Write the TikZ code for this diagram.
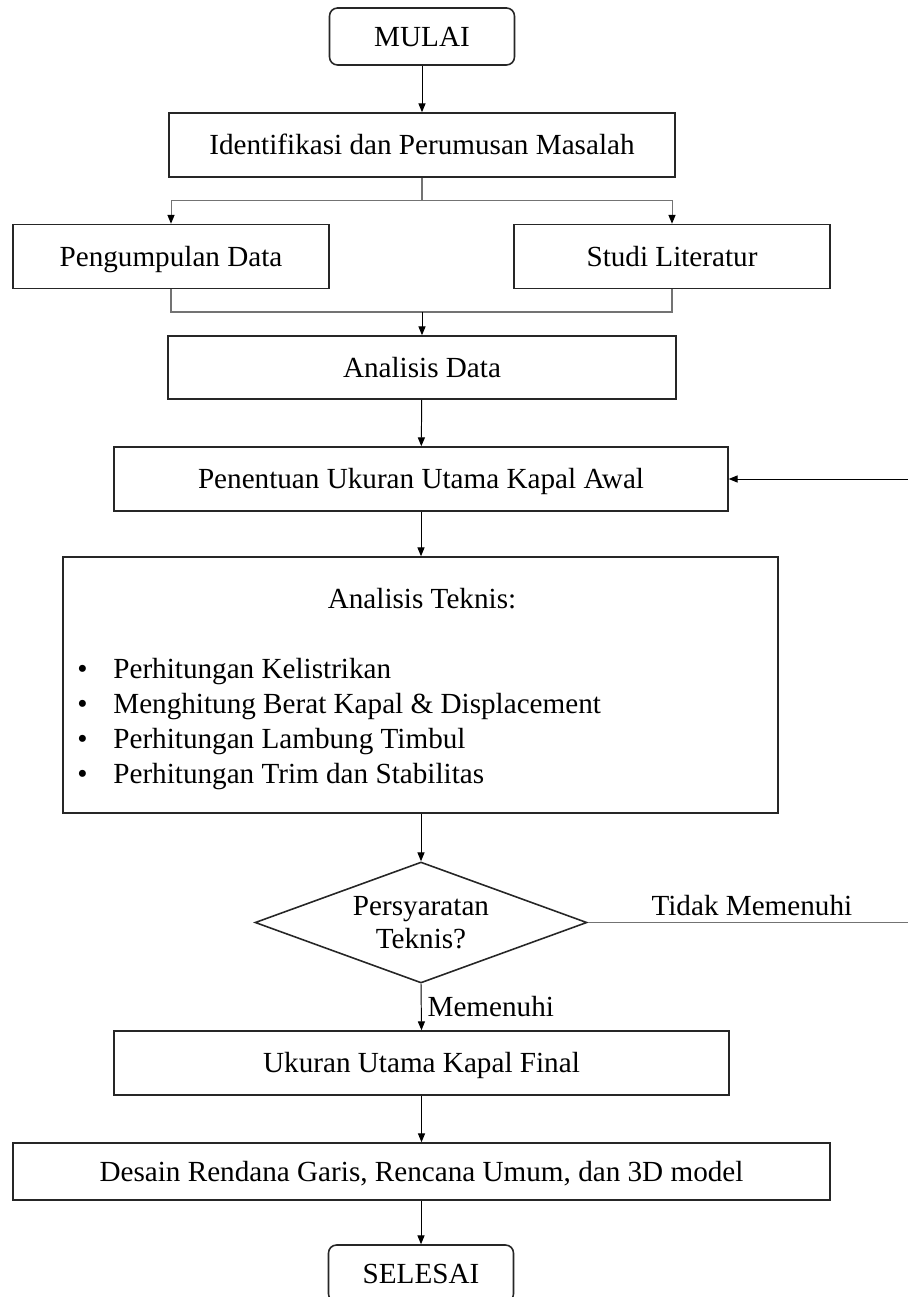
\documentclass[tikz,border=0pt]{standalone}
\usepackage{fontspec}
\setmainfont{Liberation Serif}[Ligatures=NoCommon]
\usetikzlibrary{positioning,shapes,arrows.meta}
\tikzset{
  box/.style={draw=black!85, line width=0.9pt, rectangle, align=center, inner sep=0pt, text height=14.6pt, text depth=3.6pt},
  termbox/.style={box, rounded corners=0.16cm},
  decbox/.style={draw=black!85, line width=0.9pt, diamond, aspect=2.75, align=center, inner sep=0pt},
  arr/.style={-{Triangle[length=5pt,width=4pt,color=black]}, line width=0.55pt},
  grayline/.style={draw=black!55, line width=0.6pt},
}

\begin{document}
\begin{tikzpicture}[x=0.02cm, y=-0.02cm, font={\fontsize{16.6}{19.9}\selectfont}]
				\useasboundingbox (0,0) rectangle (908,1297);
				% boxes
				\node[termbox, minimum width=3.7cm, minimum height=1.14cm] (mulai) at (422,36.5) {MULAI};
				\node[box, minimum width=10.12cm, minimum height=1.28cm] (ident) at (422,145) {Identifikasi dan Perumusan Masalah};
				\node[box, minimum width=6.32cm, minimum height=1.28cm] (data) at (171,256.5) {Pengumpulan Data};
				\node[box, minimum width=6.32cm, minimum height=1.28cm] (studi) at (672,256.5) {Studi Literatur};
				\node[box, minimum width=10.16cm, minimum height=1.26cm] (anadata) at (422,367.5) {Analisis Data};
				\node[box, minimum width=12.28cm, minimum height=1.28cm] (penentuan) at (421,479) {Penentuan Ukuran Utama Kapal Awal};
				\node[box, minimum width=14.3cm, minimum height=5.12cm] (teknis) at (420.5,685) {};
				\node[anchor=base, inner sep=0pt] (teknistitle) at (422,608) {Analisis Teknis:};
				\foreach \txt [count=\i] in {Perhitungan Kelistrikan, Menghitung Berat Kapal \& Displacement, Perhitungan Lambung Timbul, Perhitungan Trim dan Stabilitas}
					\node[anchor=base west, inner sep=0pt] (item\i) at (77,643+35*\i) {\makebox[0.72cm][l]{\textbullet}\txt};
				\node[decbox, minimum width=6.64cm, minimum height=2.42cm, font={\fontsize{16.6}{18.8}\selectfont}] (dec) at (421,922.5) {Persyaratan\\Teknis?};
				\node[box, minimum width=12.3cm, minimum height=1.28cm] (final) at (421.5,1063) {Ukuran Utama Kapal Final};
				\node[box, minimum width=16.34cm, minimum height=1.14cm] (desain) at (421.5,1171.5) {Desain Rendana Garis, Rencana Umum, dan 3D model};
				\node[termbox, minimum width=3.7cm, minimum height=1.14cm] (selesai) at (421,1273.5) {SELESAI};
				% connectors
				\coordinate (split) at (422,200);
				\coordinate (merge) at (422,312);
				\coordinate (ret1) at (916,922.5);
				\coordinate (ret2) at (916,479);
				\draw[arr] (mulai) -- (ident);
				\draw[grayline] (ident.south) -- (split);
				\draw[grayline, arr] (split) -| (data.north);
				\draw[grayline, arr] (split) -| (studi.north);
				\draw[grayline] (data.south) |- (merge);
				\draw[grayline] (studi.south) |- (merge);
				\draw[arr] (merge) -- (anadata.north);
				\draw[arr] (anadata) -- (penentuan);
				\draw[arr] (penentuan) -- (penentuan.south |- teknis.north);
				\draw[arr] (teknis.south -| dec.north) -- (dec.north);
				\draw[grayline] (dec.east) -- node[above, text=black] (tidak) {Tidak Memenuhi} (ret1);
				\draw[arr] (ret1) -- (ret2) -- (penentuan.east);
				\draw[arr] (dec.south) -- node[right] (memenuhi) {Memenuhi} (final.north);
				\draw[arr] (final) -- (final.south |- desain.north);
				\draw[arr] (desain.south -| selesai.north) -- (selesai.north);
			\end{tikzpicture}
\end{document}
